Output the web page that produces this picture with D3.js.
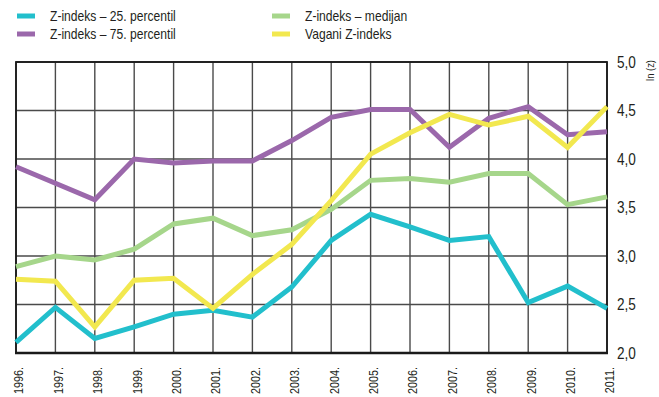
<!DOCTYPE html>
<html>
<head>
<meta charset="utf-8">
<script src="https://cdn.jsdelivr.net/npm/d3@7/dist/d3.min.js"></script>
<style>
  html, body { margin: 0; padding: 0; background: #fff; }
  svg { display: block; }
  text { font-family: "Liberation Sans", Arial, "Helvetica", sans-serif; fill: #231f20; }
</style>
</head>
<body>
<svg id="chart" width="659" height="397"></svg>
<script>
// Years on the horizontal axis
const years = ["1996.", "1997.", "1998.", "1999.", "2000.", "2001.", "2002.", "2003.",
               "2004.", "2005.", "2006.", "2007.", "2008.", "2009.", "2010.", "2011."];

// ln(z) values per series
const p25    = [2.11, 2.47, 2.15, 2.27, 2.40, 2.44, 2.37, 2.68, 3.16, 3.43, 3.30, 3.16, 3.20, 2.52, 2.69, 2.46];
const p75    = [3.92, 3.75, 3.58, 4.00, 3.96, 3.98, 3.98, 4.19, 4.43, 4.51, 4.51, 4.12, 4.42, 4.54, 4.25, 4.28];
const median = [2.89, 3.00, 2.96, 3.07, 3.33, 3.39, 3.21, 3.27, 3.48, 3.78, 3.80, 3.76, 3.85, 3.85, 3.53, 3.61];
const vagani = [2.76, 2.74, 2.27, 2.75, 2.77, 2.46, 2.81, 3.12, 3.57, 4.05, 4.27, 4.46, 4.35, 4.44, 4.12, 4.54];

const yTicks = [2.0, 2.5, 3.0, 3.5, 4.0, 4.5, 5.0];
const seriesNames = ["Z-indeks – 25. percentil", "Z-indeks – 75. percentil", "Z-indeks – medijan", "Vagani Z-indeks"];
const seriesColors = ["#22bfcc", "#9b68ab", "#a6d68b", "#f2e84f"];

const series = [
  { name: seriesNames[0], color: seriesColors[0], values: p25 },
  { name: seriesNames[1], color: seriesColors[1], values: p75 },
  { name: seriesNames[2], color: seriesColors[2], values: median },
  { name: seriesNames[3], color: seriesColors[3], values: vagani }
];

const svg = d3.select("#chart");
const plot = { left: 16, right: 607, top: 62, bottom: 353 };

const x = d3.scalePoint().domain(years).range([plot.left, plot.right]);
const y = d3.scaleLinear().domain([2, 5]).range([plot.bottom, plot.top]);

// Grid
const grid = svg.append("g");
grid.selectAll("line.v").data(years).join("line")
  .attr("x1", d => x(d)).attr("x2", d => x(d))
  .attr("y1", plot.top).attr("y2", plot.bottom)
  .attr("stroke", "#4a4a4a").attr("stroke-width", 1.4);
grid.selectAll("line.h").data(yTicks).join("line")
  .attr("x1", plot.left).attr("x2", plot.right)
  .attr("y1", d => y(d)).attr("y2", d => y(d))
  .attr("stroke", "#4a4a4a").attr("stroke-width", 1.4);

// Frame
svg.append("rect")
  .attr("x", plot.left).attr("y", plot.top)
  .attr("width", plot.right - plot.left).attr("height", plot.bottom - plot.top)
  .attr("fill", "none").attr("stroke", "#1a1a1a").attr("stroke-width", 1.8);
svg.append("line")
  .attr("x1", plot.left - 1).attr("x2", plot.right + 1)
  .attr("y1", plot.bottom).attr("y2", plot.bottom)
  .attr("stroke", "#1a1a1a").attr("stroke-width", 2.6);

// Series lines
const line = d3.line()
  .x((d, i) => x(years[i]))
  .y(d => y(d));

svg.append("g").selectAll("path").data(series).join("path")
  .attr("d", d => line(d.values))
  .attr("fill", "none")
  .attr("stroke", d => d.color)
  .attr("stroke-width", 5)
  .attr("stroke-linejoin", "miter")
  .attr("stroke-miterlimit", 3);

// Right axis labels (condensed lettering)
const fmt = d => d3.format(".1f")(d).replace(".", ",");
svg.append("g").selectAll("g").data(yTicks).join("g")
  .attr("transform", d => `translate(${plot.right + 10},${y(d)}) scale(0.85,1)`)
  .append("text")
  .attr("dy", "0.36em")
  .style("font-size", "16px")
  .text(fmt);

svg.append("g")
  .attr("transform", "translate(654,60) rotate(-90) scale(0.9,1)")
  .append("text")
  .attr("text-anchor", "end")
  .style("font-size", "10.5px")
  .text("ln (z)");

// Year labels, read bottom to top
svg.append("g").selectAll("g").data(years).join("g")
  .attr("transform", d => `translate(${x(d) + 3},${plot.bottom + 14}) rotate(-90) scale(0.9,1)`)
  .append("text")
  .attr("text-anchor", "end")
  .attr("dy", "0.36em")
  .style("font-size", "12px")
  .text(d => d);

// Legend
const legendPos = [[17, 16], [17, 34], [272, 16], [272, 34]];
const lg = svg.append("g").selectAll("g").data(series).join("g")
  .attr("transform", (d, i) => `translate(${legendPos[i][0]},${legendPos[i][1]})`);
lg.append("line").attr("x1", 0).attr("x2", 18).attr("y1", 0).attr("y2", 0)
  .attr("stroke", d => d.color).attr("stroke-width", 5);
lg.append("g").attr("transform", "translate(33,0) scale(0.865,1)")
  .append("text").attr("dy", "0.36em")
  .style("font-size", "14px").text(d => d.name);
</script>
</body>
</html>
